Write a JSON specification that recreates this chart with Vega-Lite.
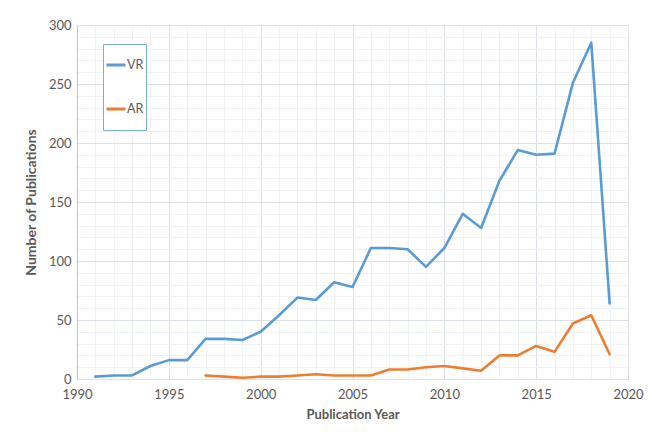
{
  "$schema": "https://vega.github.io/schema/vega-lite/v6.json",
  "width": 551,
  "height": 354,
  "autosize": "none",
  "padding": {"left": 77, "top": 25, "right": 27, "bottom": 53},
  "background": "white",
  "config": {
    "view": {"stroke": "#E1E5EC", "strokeWidth": 1},
    "font": "Lato",
    "axis": {"labelColor": "#595959", "titleColor": "#595959", "labelFont": "Lato", "titleFont": "Lato", "labelFontSize": 13, "titleFontSize": 13, "titleFontWeight": "bold", "labelFlush": false}
  },
  "data": {"values": [
    {"year": 1991, "series": "VR", "count": 2},
    {"year": 1992, "series": "VR", "count": 3},
    {"year": 1993, "series": "VR", "count": 3},
    {"year": 1994, "series": "VR", "count": 11},
    {"year": 1995, "series": "VR", "count": 16},
    {"year": 1996, "series": "VR", "count": 16},
    {"year": 1997, "series": "VR", "count": 34},
    {"year": 1998, "series": "VR", "count": 34},
    {"year": 1999, "series": "VR", "count": 33},
    {"year": 2000, "series": "VR", "count": 40},
    {"year": 2001, "series": "VR", "count": 54},
    {"year": 2002, "series": "VR", "count": 69},
    {"year": 2003, "series": "VR", "count": 67},
    {"year": 2004, "series": "VR", "count": 82},
    {"year": 2005, "series": "VR", "count": 78},
    {"year": 2006, "series": "VR", "count": 111},
    {"year": 2007, "series": "VR", "count": 111},
    {"year": 2008, "series": "VR", "count": 110},
    {"year": 2009, "series": "VR", "count": 95},
    {"year": 2010, "series": "VR", "count": 111},
    {"year": 2011, "series": "VR", "count": 140},
    {"year": 2012, "series": "VR", "count": 128},
    {"year": 2013, "series": "VR", "count": 168},
    {"year": 2014, "series": "VR", "count": 194},
    {"year": 2015, "series": "VR", "count": 190},
    {"year": 2016, "series": "VR", "count": 191},
    {"year": 2017, "series": "VR", "count": 251},
    {"year": 2018, "series": "VR", "count": 285},
    {"year": 2019, "series": "VR", "count": 64},
    {"year": 1997, "series": "AR", "count": 3},
    {"year": 1998, "series": "AR", "count": 2},
    {"year": 1999, "series": "AR", "count": 1},
    {"year": 2000, "series": "AR", "count": 2},
    {"year": 2001, "series": "AR", "count": 2},
    {"year": 2002, "series": "AR", "count": 3},
    {"year": 2003, "series": "AR", "count": 4},
    {"year": 2004, "series": "AR", "count": 3},
    {"year": 2005, "series": "AR", "count": 3},
    {"year": 2006, "series": "AR", "count": 3},
    {"year": 2007, "series": "AR", "count": 8},
    {"year": 2008, "series": "AR", "count": 8},
    {"year": 2009, "series": "AR", "count": 10},
    {"year": 2010, "series": "AR", "count": 11},
    {"year": 2011, "series": "AR", "count": 9},
    {"year": 2012, "series": "AR", "count": 7},
    {"year": 2013, "series": "AR", "count": 20},
    {"year": 2014, "series": "AR", "count": 20},
    {"year": 2015, "series": "AR", "count": 28},
    {"year": 2016, "series": "AR", "count": 23},
    {"year": 2017, "series": "AR", "count": 47},
    {"year": 2018, "series": "AR", "count": 54},
    {"year": 2019, "series": "AR", "count": 21}
  ]},
  "layer": [
    {
      "mark": {"type": "line", "strokeOpacity": 0},
      "encoding": {
        "x": {"field": "year", "type": "quantitative", "scale": {"domain": [1990, 2020], "nice": false, "zero": false},
          "axis": {"orient": "top", "values": [1991,1992,1993,1994,1996,1997,1998,1999,2001,2002,2003,2004,2006,2007,2008,2009,2011,2012,2013,2014,2016,2017,2018,2019], "grid": true, "gridColor": "#F0F2F6", "labels": false, "ticks": false, "domain": false, "title": null}},
        "y": {"field": "count", "type": "quantitative", "scale": {"domain": [0, 300], "nice": false},
          "axis": {"orient": "right", "values": [10,20,30,40,60,70,80,90,110,120,130,140,160,170,180,190,210,220,230,240,260,270,280,290], "grid": true, "gridColor": "#F0F2F6", "labels": false, "ticks": false, "domain": false, "title": null}},
        "detail": {"field": "series"}
      }
    },
    {
      "mark": {"type": "line", "strokeWidth": 2.6, "strokeJoin": "round", "strokeCap": "round"},
      "encoding": {
        "x": {"field": "year", "type": "quantitative",
          "axis": {"orient": "bottom", "values": [1990,1995,2000,2005,2010,2015,2020], "format": "d", "grid": true, "gridColor": "#DCE1EA", "ticks": false, "domainColor": "#DCE1EA", "labelPadding": 9, "title": "Publication Year", "titlePadding": 7, "titleFontSize": 13}},
        "y": {"field": "count", "type": "quantitative",
          "axis": {"orient": "left", "values": [0,50,100,150,200,250,300], "grid": true, "gridColor": "#DCE1EA", "ticks": false, "domainColor": "#B8C6DB", "labelPadding": 6, "title": "Number of Publications", "titlePadding": 10, "titleFontSize": 14}},
        "color": {"field": "series", "type": "nominal", "scale": {"domain": ["VR", "AR"], "range": ["#5B9BD5", "#ED7D31"]},
          "legend": {"title": null, "orient": "none", "legendX": 26, "legendY": 19, "symbolType": "stroke", "symbolSize": 361, "symbolStrokeWidth": 3, "labelFontSize": 12.5, "labelColor": "#595959", "labelFont": "Lato", "labelOffset": 0, "clipHeight": 38, "rowPadding": 6, "padding": 2, "strokeColor": "#7AAEDD", "fillColor": "white", "cornerRadius": 0}}
      }
    }
  ],
  "resolve": {"axis": {"x": "independent", "y": "independent"}}
}
